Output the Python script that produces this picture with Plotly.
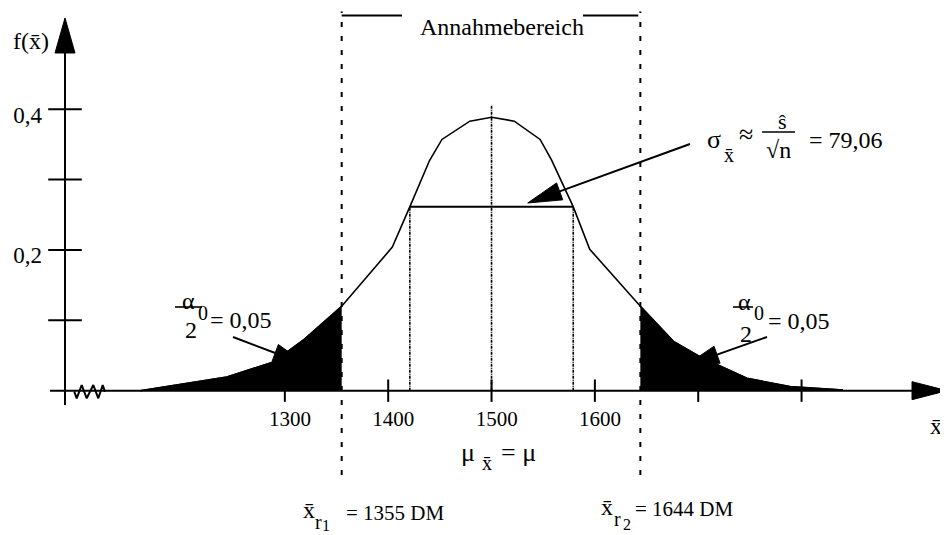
import numpy as np
import plotly.graph_objects as go

# ---------------- data ----------------
curve_x = [1160, 1170, 1244, 1289, 1318, 1355, 1404, 1421, 1440, 1452, 1479, 1500,
           1522, 1547, 1558, 1579, 1595, 1644, 1676, 1702, 1747, 1789, 1840]
curve_y = [0.0, 0.0024, 0.0195, 0.0408, 0.072, 0.12, 0.204, 0.2615, 0.327, 0.357, 0.383, 0.3885,
           0.383, 0.357, 0.328, 0.2615, 0.201, 0.12, 0.07, 0.048, 0.0176, 0.0057, 0.001]
mu = 1500
sigma = 79.06
x_r1 = 1355
x_r2 = 1644
x_ticks = [1300, 1400, 1500, 1600, 1700, 1800]
x_tick_labels = ["1300", "1400", "1500", "1600", "", ""]
y_ticks = [0.1, 0.2, 0.3, 0.4]
y_tick_labels = ["", "0,2", "", "0,4"]

# ---------------- geometry helpers ----------------
OFF = 8                      # page body margin
W, H = 940, 527
X0, X1 = 1032.1, 1941.7
Y0, Y1 = -0.2051, 0.5438


def dx(p):
    return X0 + (p - OFF) / W * (X1 - X0)


def dy(p):
    return Y1 - (p - OFF) / H * (Y1 - Y0)


def tpx(x, y):
    return (x - X0) / (X1 - X0) * W + OFF, (Y1 - y) / (Y1 - Y0) * H + OFF


def head(tip, tail, L=34, hw=9):
    tx, ty = tpx(*tip)
    sx, sy = tpx(*tail)
    ux, uy = tx - sx, ty - sy
    n = (ux ** 2 + uy ** 2) ** 0.5
    ux, uy = ux / n, uy / n
    mx, my = tx - L * ux, ty - L * uy
    nx, ny = -uy, ux
    pts = [(tx, ty), (mx + hw * nx, my + hw * ny), (mx - hw * nx, my - hw * ny), (tx, ty)]
    return [dx(p[0]) for p in pts], [dy(p[1]) for p in pts], (dx(mx), dy(my))


FONT = "Liberation Serif"
BLACK = "black"

fig = go.Figure()

# shaded tails
lx = [x for x in curve_x if x <= x_r1]
ly = [y for x, y in zip(curve_x, curve_y) if x <= x_r1]
rx = [x for x in curve_x if x >= x_r2]
ry = [y for x, y in zip(curve_x, curve_y) if x >= x_r2]
for xs, ys in ((lx, ly), (rx, ry)):
    fig.add_trace(go.Scatter(x=xs, y=ys, mode="lines", fill="tozeroy",
                             fillcolor=BLACK, line=dict(color=BLACK, width=1.5),
                             hoverinfo="skip"))

# curve
fig.add_trace(go.Scatter(x=curve_x, y=curve_y, mode="lines",
                         line=dict(color=BLACK, width=1.6), hoverinfo="skip"))

# sigma horizontal line
f_sig = float(np.interp(mu - sigma, curve_x, curve_y))
fig.add_trace(go.Scatter(x=[mu - sigma, mu + sigma], y=[f_sig, f_sig], mode="lines",
                         line=dict(color=BLACK, width=2), hoverinfo="skip"))

# inner dotted lines
for xv, top in ((mu - sigma, f_sig), (mu + sigma, f_sig), (mu, 0.406)):
    fig.add_trace(go.Scatter(x=[xv, xv], y=[0, top], mode="lines",
                             line=dict(color=BLACK, width=1.6, dash="3px,1px,1px,1px"),
                             hoverinfo="skip"))

# critical value dotted lines
for xv in (x_r1, x_r2):
    fig.add_trace(go.Scatter(x=[xv, xv], y=[-0.12, 0.539], mode="lines",
                             line=dict(color=BLACK, width=2, dash="5px,9px"),
                             hoverinfo="skip"))

# Annahmebereich bars
fig.add_trace(go.Scatter(x=[x_r1, dx(402), None, dx(583), x_r2 - 2], y=[0.533, 0.533, None, 0.533, 0.533],
                         mode="lines", line=dict(color=BLACK, width=2), hoverinfo="skip"))

# axes
yax_x = dx(65)
x_left = dx(50)
xh_x, xh_y, xbase = head((dx(947), 0), (x_left, 0), L=35, hw=9)
fig.add_trace(go.Scatter(x=[x_left, xbase[0]], y=[0, 0], mode="lines",
                         line=dict(color=BLACK, width=2), hoverinfo="skip"))
fig.add_trace(go.Scatter(x=xh_x, y=xh_y, mode="lines", fill="toself", fillcolor=BLACK,
                         line=dict(color=BLACK, width=1), hoverinfo="skip"))
yh_x, yh_y, ybase = head((yax_x, dy(18)), (yax_x, 0), L=35, hw=10)
fig.add_trace(go.Scatter(x=[yax_x, yax_x], y=[dy(405), ybase[1]], mode="lines",
                         line=dict(color=BLACK, width=2), hoverinfo="skip"))
fig.add_trace(go.Scatter(x=yh_x, y=yh_y, mode="lines", fill="toself", fillcolor=BLACK,
                         line=dict(color=BLACK, width=1), hoverinfo="skip"))

# axis break zigzag
zz_px = [74.3, 76.7, 81.7, 86.7, 93.3, 98.3, 102.7, 105]
zz_py = [391.7, 398.3, 385, 398.3, 385, 398.3, 385, 391.7]
fig.add_trace(go.Scatter(x=[dx(p) for p in zz_px], y=[dy(p) for p in zz_py], mode="lines",
                         line=dict(color=BLACK, width=2), hoverinfo="skip"))

# ticks
fig.add_trace(go.Scatter(x=x_ticks, y=[0] * len(x_ticks), mode="markers",
                         marker=dict(symbol="line-ns", size=16, line=dict(color=BLACK, width=2)),
                         hoverinfo="skip"))
fig.add_trace(go.Scatter(x=[yax_x] * len(y_ticks), y=y_ticks, mode="markers",
                         marker=dict(symbol="line-ew", size=24, line=dict(color=BLACK, width=2)),
                         hoverinfo="skip"))

# tick labels
fig.add_trace(go.Scatter(x=[t + 5 for t in x_ticks], y=[dy(421)] * len(x_ticks), mode="text",
                         text=x_tick_labels, textposition="middle center",
                         textfont=dict(family=FONT, size=21, color=BLACK), hoverinfo="skip"))
fig.add_trace(go.Scatter(x=[dx(27.5)] * len(y_ticks), y=[t - 0.011 for t in y_ticks], mode="text",
                         text=y_tick_labels, textposition="middle center",
                         textfont=dict(family=FONT, size=23, color=BLACK), hoverinfo="skip"))

# arrows (sigma and alpha)
arrows = [((1535.0, 0.2667), (dx(690), dy(144))),
          ((dx(307), dy(365)), (dx(233), dy(337))),
          ((dx(685), dy(366)), (dx(767), dy(337)))]
for tip, tail in arrows:
    hx, hy, base = head(tip, tail, L=34, hw=9)
    fig.add_trace(go.Scatter(x=[tail[0], base[0]], y=[tail[1], base[1]], mode="lines",
                             line=dict(color=BLACK, width=2), hoverinfo="skip"))
    fig.add_trace(go.Scatter(x=hx, y=hy, mode="lines", fill="toself", fillcolor=BLACK,
                             line=dict(color=BLACK, width=1), hoverinfo="skip"))

# fraction bars
for a, b, yy in ((762, 795, 132), (175, 202, 307), (733, 753, 307)):
    fig.add_trace(go.Scatter(x=[dx(a), dx(b)], y=[dy(yy), dy(yy)], mode="lines",
                             line=dict(color=BLACK, width=1.6), hoverinfo="skip"))

# text annotations (pixel center, text, size)
texts = [
    (31, 41, "f(x\u0304)", 24),
    (502, 27, "Annahmebereich", 24),
    (714, 139, "\u03c3", 26),
    (729, 155, "x\u0304", 20),
    (746, 134, "\u2248", 26),
    (782, 121, "\u015d", 22),
    (778, 150, "\u221an", 24),
    (846, 140, "= 79,06", 24),
    (188, 301, "\u03b1", 24),
    (203, 313, "0", 20),
    (191, 330, "2", 24),
    (241, 320, "= 0,05", 24),
    (744, 302, "\u03b1", 24),
    (759, 313, "0", 20),
    (746, 334, "2", 24),
    (799, 321, "= 0,05", 24),
    (468, 452, "\u03bc", 26),
    (487, 463, "x\u0304", 20),
    (518, 452, "= \u03bc", 26),
    (309, 510, "x\u0304", 24),
    (318, 522, "r", 20),
    (326, 525, "1", 16),
    (395, 513, "= 1355 DM", 21),
    (607, 507, "x\u0304", 24),
    (617, 519, "r", 20),
    (627, 524, "2", 16),
    (684, 509, "= 1644 DM", 21),
    (936, 426, "x\u0304", 24),
]
for cx, cy, t, s in texts:
    fig.add_annotation(x=dx(cx), y=dy(cy), xref="x", yref="y", text=t, showarrow=False,
                       xanchor="center", yanchor="middle",
                       font=dict(family=FONT, size=s, color=BLACK))

fig.update_layout(
    width=W, height=H,
    margin=dict(l=0, r=0, t=0, b=0),
    paper_bgcolor="white", plot_bgcolor="white",
    showlegend=False,
    xaxis=dict(range=[X0, X1], visible=False, fixedrange=True),
    yaxis=dict(range=[Y0, Y1], visible=False, fixedrange=True),
)
fig.write_html("out.html")
